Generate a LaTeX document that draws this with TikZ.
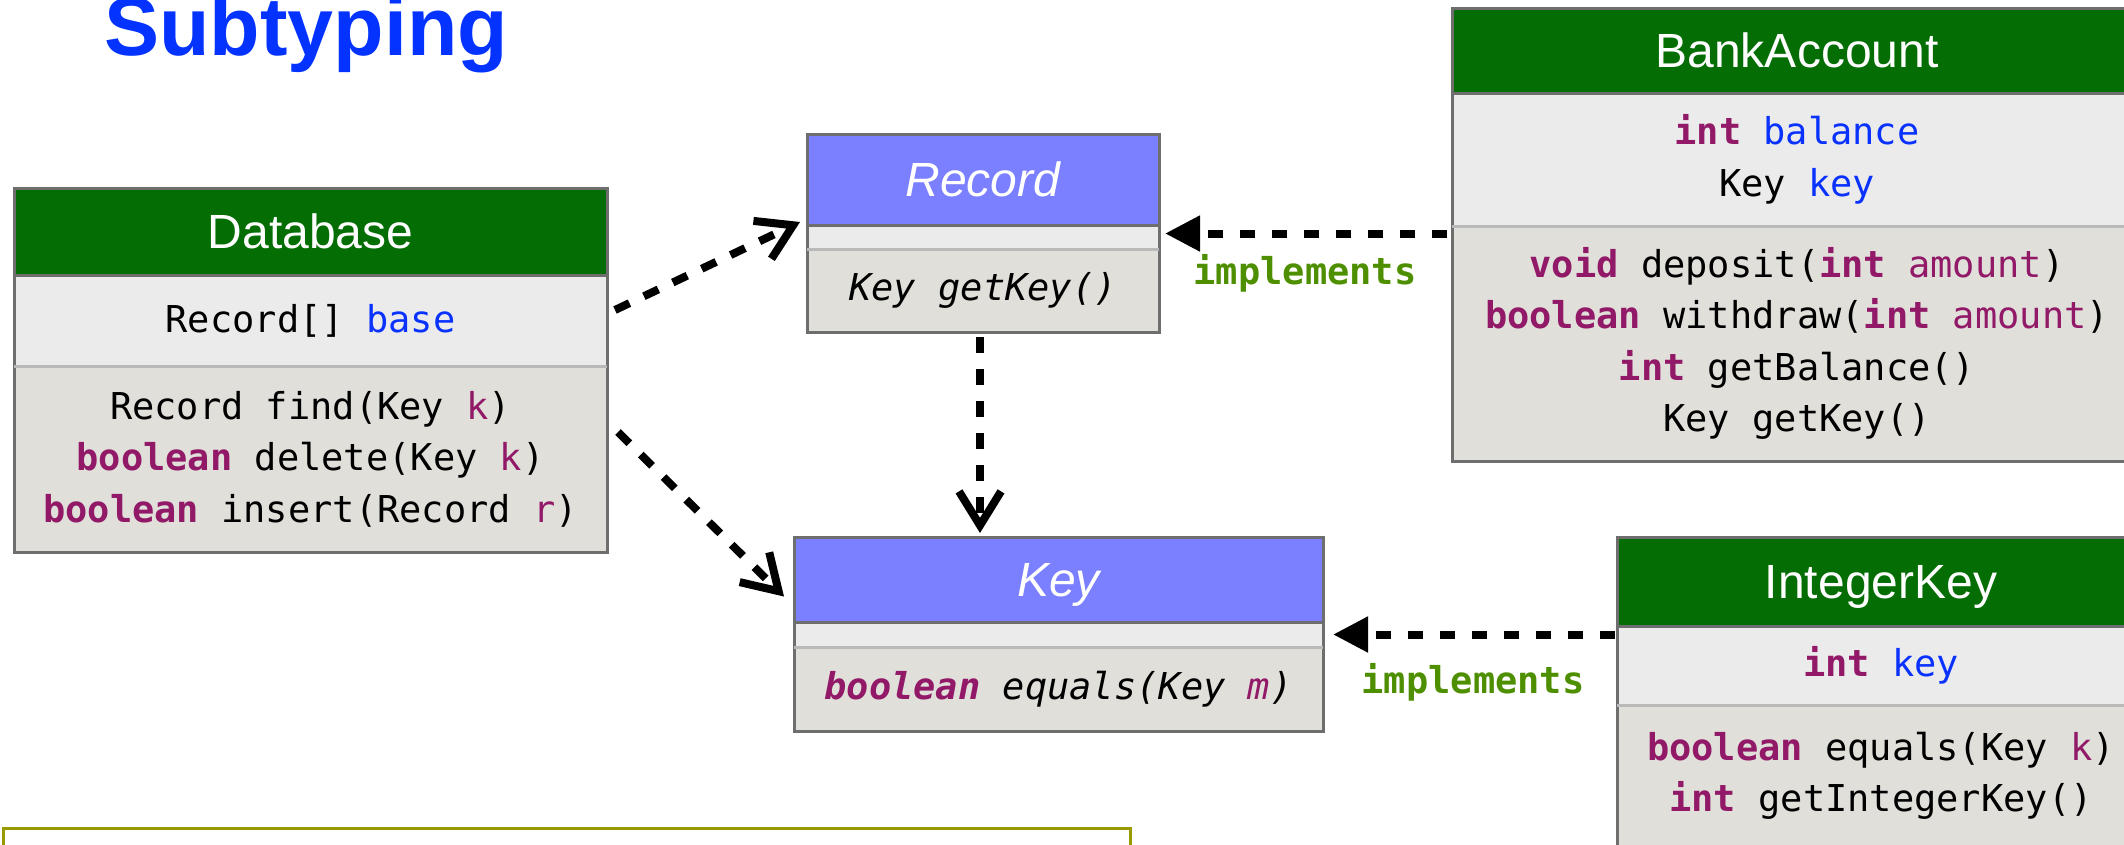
\documentclass[tikz,border=0pt]{standalone}
\usepackage{fontspec}
\setmainfont{Liberation Sans}
\newfontfamily\monof{DejaVu Sans Mono}
\usetikzlibrary{arrows.meta}
\definecolor{hgreen}{RGB}{4,110,4}
\definecolor{hblue}{RGB}{122,128,255}
\definecolor{attrfill}{RGB}{235,235,235}
\definecolor{methfill}{RGB}{224,223,218}
\definecolor{bordc}{RGB}{110,110,110}
\definecolor{sepl}{RGB}{185,185,185}
\definecolor{kwc}{RGB}{145,25,104}
\definecolor{fldc}{RGB}{10,50,255}
\definecolor{implc}{RGB}{78,143,0}
\definecolor{titlec}{RGB}{4,51,255}
\definecolor{notec}{RGB}{153,153,0}
\newcommand\kw[1]{\textcolor{kwc}{\bfseries #1}}
\newcommand\pv[1]{\textcolor{kwc}{#1}}
\newcommand\fv[1]{\textcolor{fldc}{#1}}
\tikzset{
  hdrtxt/.style={inner sep=0pt, outer sep=0pt, text=white, font=\fontsize{48}{56}\selectfont, text height=34pt, text depth=0pt, anchor=north west},
  gh/.style={hdrtxt, fill=hgreen},
  bh/.style={hdrtxt, fill=hblue, font=\itshape\fontsize{48}{56}\selectfont},
  compartment/.style={inner sep=0pt, outer sep=0pt, align=center, font=\monof\fontsize{37}{51.5}\selectfont},
  ac/.style={compartment, fill=attrfill, anchor=north},
  mc/.style={compartment, fill=methfill, anchor=north},
  darksep/.style={draw=bordc, line width=3pt},
  lightsep/.style={draw=sepl, line width=3pt},
  outline/.style={draw=bordc, line width=3pt},
  dep/.style={line width=8pt, dash pattern=on 16pt off 16pt, -{Straight Barb[length=34pt,width=42pt,line width=8pt]}},
  imp/.style={line width=8pt, dash pattern=on 15pt off 17pt, -{Triangle[length=35pt,width=34pt]}},
  lbl/.style={text=implc, font=\monof\bfseries\fontsize{37}{44}\selectfont, inner sep=0pt, anchor=base},
}
\begin{document}
\begin{tikzpicture}[x=1pt,y=-1pt]
\useasboundingbox (0,0) rectangle (2124,844);
\clip (0,0) rectangle (2124,844);

% title
\node[anchor=base west, inner sep=0pt, text=titlec, font=\bfseries\fontsize{82.6}{90}\selectfont] (title) at (104,55) {Subtyping};

% Database
\node[gh, minimum width=593pt, minimum height=87pt] (dbh) at (14,188) {Database};
\node[ac, minimum width=593pt, minimum height=91pt] (dba) at (dbh.south) {Record[] \fv{base}};
\node[mc, minimum width=593pt, minimum height=186pt] (dbm) at (dba.south) {Record find(Key \pv{k})\\\kw{boolean} delete(Key \pv{k})\\\kw{boolean} insert(Record \pv{r})};
\draw[outline] (dbh.north west) rectangle (dbm.south east);
\draw[darksep] (dbh.south west) -- (dbh.south east);
\draw[lightsep] (dba.south west) -- (dba.south east);

% Record
\node[bh, minimum width=352pt, minimum height=91pt] (rech) at (807,134) {Record};
\node[ac, minimum width=352pt, minimum height=24pt] (reca) at (rech.south) {};
\node[mc, minimum width=352pt, minimum height=83pt] (recm) at (reca.south) {\itshape Key getKey()};
\draw[outline] (rech.north west) rectangle (recm.south east);
\draw[darksep] (rech.south west) -- (rech.south east);
\draw[lightsep] (reca.south west) -- (reca.south east);

% Key
\node[bh, minimum width=529pt, minimum height=85pt] (keyh) at (794,537) {Key};
\node[ac, minimum width=529pt, minimum height=25pt] (keya) at (keyh.south) {};
\node[mc, minimum width=529pt, minimum height=84pt] (keym) at (keya.south) {\itshape\kw{boolean} equals(Key \pv{m})};
\draw[outline] (keyh.north west) rectangle (keym.south east);
\draw[darksep] (keyh.south west) -- (keyh.south east);
\draw[lightsep] (keya.south west) -- (keya.south east);

% BankAccount
\node[gh, minimum width=690pt, minimum height=85pt] (bankh) at (1452,8) {BankAccount};
\node[ac, minimum width=690pt, minimum height=133pt] (banka) at (bankh.south) {\kw{int} \fv{balance}\\Key \fv{key}};
\node[mc, minimum width=690pt, minimum height=235pt] (bankm) at (banka.south) {\kw{void} deposit(\kw{int} \pv{amount})\\\kw{boolean} withdraw(\kw{int} \pv{amount})\\\kw{int} getBalance()\\Key getKey()};
\draw[outline] (bankh.north west) rectangle (bankm.south east);
\draw[darksep] (bankh.south west) -- (bankh.south east);
\draw[lightsep] (banka.south west) -- (banka.south east);

% IntegerKey
\node[gh, minimum width=528pt, minimum height=89pt] (inth) at (1617,537) {IntegerKey};
\node[ac, minimum width=528pt, minimum height=79pt] (inta) at (inth.south) {\kw{int} \fv{key}};
\node[mc, minimum width=528pt, minimum height=142pt] (intm) at (inta.south) {\kw{boolean} equals(Key \pv{k})\\\kw{int} getIntegerKey()};
\draw[outline] (inth.north west) rectangle (intm.south east);
\draw[darksep] (inth.south west) -- (inth.south east);
\draw[lightsep] (inta.south west) -- (inta.south east);

% note box
\node[draw=notec, line width=3pt, fill=white, inner sep=0pt, minimum width=1127pt, minimum height=100pt, anchor=north west] (note) at (1.5,827) {};

% connectors
\draw[dep] ([shift={(8,-10.5)}]dba.east) -- ([shift={(-7,-3)}]rech.south west);
\draw[dep] ([shift={(11,-27)}]dbm.east) -- ([shift={(-10,17)}]keyh.west);
\draw[dep] ([shift={(-3,5)}]recm.south) -- ([shift={(-3,-4)}]recm.south |- keyh.north);
\draw[imp] ([shift={(-5,-3.5)}]reca.east -| bankm.west) -- ([shift={(6,-3.5)}]reca.east);
\draw[imp] ([shift={(-2,0)}]keya.east -| intm.west) -- ([shift={(10,0)}]keya.east);

\node[lbl] (impl1) at (1305,284) {implements};
\node[lbl] (impl2) at (1473,693) {implements};
\end{tikzpicture}
\end{document}
